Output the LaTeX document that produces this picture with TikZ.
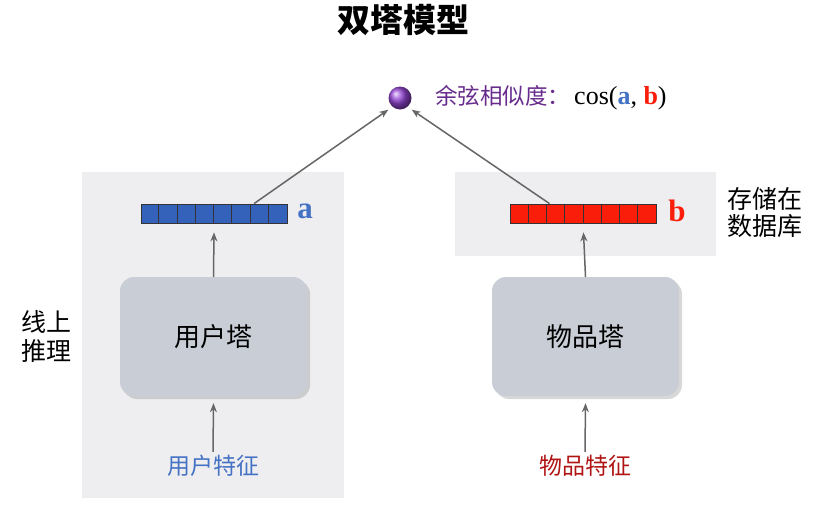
\documentclass[tikz,border=0pt]{standalone}
\usepackage{fontspec}
\setmainfont{Liberation Serif}
\newfontfamily\cjk{Noto Sans CJK SC}
\usepackage{tikz}
\usetikzlibrary{arrows.meta,shadows}
\definecolor{panelgray}{RGB}{238,238,240}
\definecolor{towergray}{RGB}{201,206,214}
\definecolor{vecblue}{RGB}{52,98,186}
\definecolor{vecred}{RGB}{250,30,10}
\definecolor{labblue}{RGB}{68,114,196}
\definecolor{featred}{RGB}{176,20,20}
\definecolor{simpurple}{RGB}{104,44,140}
\definecolor{ballpurple}{RGB}{150,70,215}
\tikzset{
  panel/.style={fill=panelgray,draw=none},
  tower/.style={rounded corners=14pt,fill=towergray,draw=none,minimum width=187pt,minimum height=119pt,
    drop shadow={shadow xshift=3pt,shadow yshift=-3pt,opacity=0.3},font=\cjk\fontsize{26}{26}\selectfont},
  vecbox/.style={draw=black!80,line width=0.8pt,minimum width=146pt,minimum height=19pt,inner sep=0pt},
  conn/.style={-{Stealth[length=9pt,width=7pt]},line width=1.5pt,draw=black!60},
  cjktext/.style={font=\cjk\fontsize{23}{23}\selectfont},
  sidetext/.style={font=\cjk\fontsize{25}{25}\selectfont,align=left},
  veclabel/.style={font=\bfseries\fontsize{31}{31}\selectfont}
}
\begin{document}
\begin{tikzpicture}[x=1pt,y=-1pt]
\useasboundingbox[fill=white](0,0)rectangle(829,504);
% panels
\path[panel](82,172)rectangle(344,498);
\path[panel](455,172)rectangle(716,256);
% title
\node[font=\cjk\bfseries\fontsize{33}{33}\selectfont](title)at(403,20){双塔模型};
% similarity
\shade[ball color=ballpurple](400,98)circle(11.5pt);
\node[inner sep=0pt,minimum size=23pt](sim)at(400,98){};
\node[anchor=west,inner sep=0pt](simtext)at(435,98){\cjk\fontsize{22.5}{22.5}\selectfont\color{simpurple}余弦相似度：\hspace{4pt}\rmfamily\fontsize{26}{26}\selectfont\color{black}cos(\textbf{\color{labblue}a}, \textbf{\color{vecred}b})};
% vectors
\node[vecbox,fill=vecblue](va)at(214,213.5){};
\node[vecbox,fill=vecred](vb)at(583.5,213.5){};
\foreach \i in {1,...,7}{
  \draw[black!80,line width=0.8pt]([xshift=\i*18.25pt]va.north west)--([xshift=\i*18.25pt]va.south west);
  \draw[black!80,line width=0.8pt]([xshift=\i*18.25pt]vb.north west)--([xshift=\i*18.25pt]vb.south west);
}
\node[veclabel,text=labblue](la)at(305,211){a};
\node[veclabel,text=vecred](lb)at(677,211){b};
\node[sidetext](store)at(765,213){存储在\\[2pt]数据库};
% towers
\node[tower](ut)at(213.5,336.5){用户塔};
\node[tower](it)at(585.5,336.5){物品塔};
% features
\node[cjktext,text=labblue](uf)at(213,466){用户特征};
\node[cjktext,text=featred](if)at(585,466){物品特征};
\node[sidetext](online)at(46,336){线上\\[4pt]推理};
% arrows
\draw[conn]([xshift=40pt]va.north)--(sim.south west);
\draw[conn]([xshift=-34pt]vb.north)--(sim.south east);
\draw[conn](ut.north)--([yshift=-9pt]va.south);
\draw[conn](it.north)--([yshift=-9pt]vb.south);
\draw[conn](uf.north)--([yshift=-7pt]ut.south);
\draw[conn](if.north)--([yshift=-7pt]it.south);
\end{tikzpicture}
\end{document}
